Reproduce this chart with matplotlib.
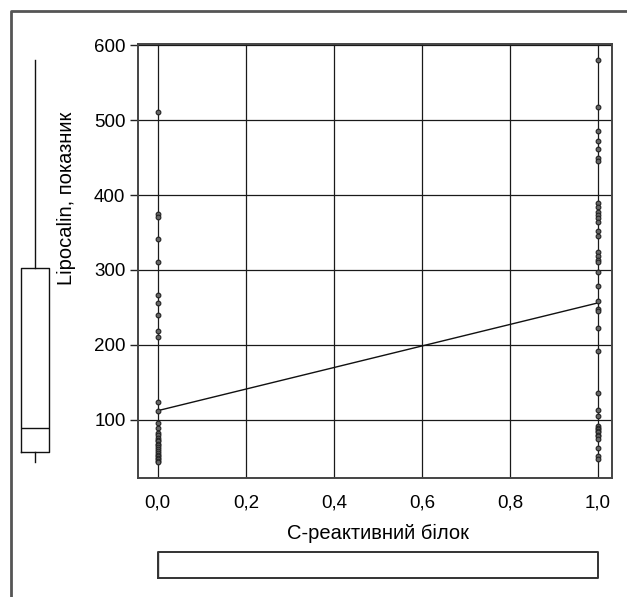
import matplotlib
matplotlib.use("Agg")
import matplotlib.pyplot as plt
from matplotlib.lines import Line2D
import numpy as np

plt.rcParams['font.family'] = ['Liberation Sans', 'DejaVu Sans']

# ---- data ----
x_ticks = [0.0, 0.2, 0.4, 0.6, 0.8, 1.0]
x_tick_labels = ["0,0", "0,2", "0,4", "0,6", "0,8", "1,0"]
y_ticks = [100, 200, 300, 400, 500, 600]

y_group0 = [511, 375, 371, 341, 311, 267, 256, 240, 219, 211, 124, 112, 96, 89,
            82, 79, 76, 73, 71, 68, 66, 63, 61, 58, 56, 53, 51, 49, 47, 45, 44]
y_group1 = [580, 518, 486, 473, 462, 450, 446, 390, 384, 378, 374, 370, 364, 352,
            346, 324, 319, 313, 310, 297, 278, 258, 248, 245, 223, 192, 136, 113,
            105, 92, 89, 87, 85, 83, 80, 78, 74, 62, 51, 47]

fit_x = [0.0, 1.0]
fit_y = [112, 256]

# marginal box of y (Lipocalin)
y_box = dict(whislo=43, q1=57, med=89, q3=303, whishi=580)
# marginal box of x (C-reactive protein)
x_box = dict(whislo=0.0, q1=0.0, med=0.0, q3=1.0, whishi=1.0)

W, H = 627, 597
fig = plt.figure(figsize=(W / 100, H / 100), dpi=100)

def fx(px):
    return px / W

def fy(py):
    return 1 - py / H

ylim = (22, 602)
xlim = (-0.045, 1.032)

# main axes
ax = fig.add_axes([fx(138), fy(478), fx(612) - fx(138), fy(44) - fy(478)])
ax.set_xlim(*xlim)
ax.set_ylim(*ylim)
ax.set_xticks(x_ticks)
ax.set_xticklabels(x_tick_labels)
ax.set_yticks(y_ticks)
ax.grid(True, color='#1a1a1a', linewidth=0.9)
ax.set_axisbelow(True)
for s in ax.spines.values():
    s.set_color('#444444')
    s.set_linewidth(1.4)
ax.tick_params(axis='y', length=6, width=1, color='#222222', labelsize=13.5, pad=3)
ax.tick_params(axis='x', length=0, labelsize=13.5, pad=12)

ax.plot(fit_x, fit_y, color='#111111', linewidth=1.0, zorder=3)
ax.plot(np.zeros(len(y_group0)) + x_ticks[0], y_group0, 'o', ms=3.4,
        mfc='#666666', mec='#222222', mew=0.8, zorder=4)
ax.plot(np.zeros(len(y_group1)) + x_ticks[-1], y_group1, 'o', ms=3.4,
        mfc='#666666', mec='#222222', mew=0.8, zorder=4)

fig.text(fx(378), fy(533), "С-реактивний білок", ha='center', va='center', fontsize=14.5)
fig.text(fx(67), fy(198), "Lipocalin, показник", ha='center', va='center',
         rotation=90, fontsize=14.5)

# left marginal boxplot
axl = fig.add_axes([fx(15), fy(478), fx(55) - fx(15), fy(44) - fy(478)])
axl.set_xlim(-0.5, 0.5)
axl.set_ylim(*ylim)
axl.bxp([y_box], positions=[0], widths=0.7, showfliers=False, showcaps=False,
        boxprops=dict(color='#111111', linewidth=1.0),
        whiskerprops=dict(color='#111111', linewidth=1.0),
        medianprops=dict(color='#111111', linewidth=1.0))
axl.axis('off')

# bottom marginal boxplot
axb = fig.add_axes([fx(138), fy(585), fx(612) - fx(138), fy(545) - fy(585)])
axb.set_xlim(*xlim)
axb.set_ylim(-0.5, 0.5)
axb.bxp([x_box], positions=[0], widths=0.65, vert=False, showfliers=False,
        showcaps=False,
        boxprops=dict(color='#333333', linewidth=1.4),
        whiskerprops=dict(color='#111111', linewidth=1.0),
        medianprops=dict(color='#333333', linewidth=1.0))
axb.axis('off')

# outer frame
fig.add_artist(Line2D([fx(11), fx(11), fx(627)], [0, fy(11), fy(11)],
                      transform=fig.transFigure, color='#555555', linewidth=2.0))

fig.savefig("out.png", dpi=100)
